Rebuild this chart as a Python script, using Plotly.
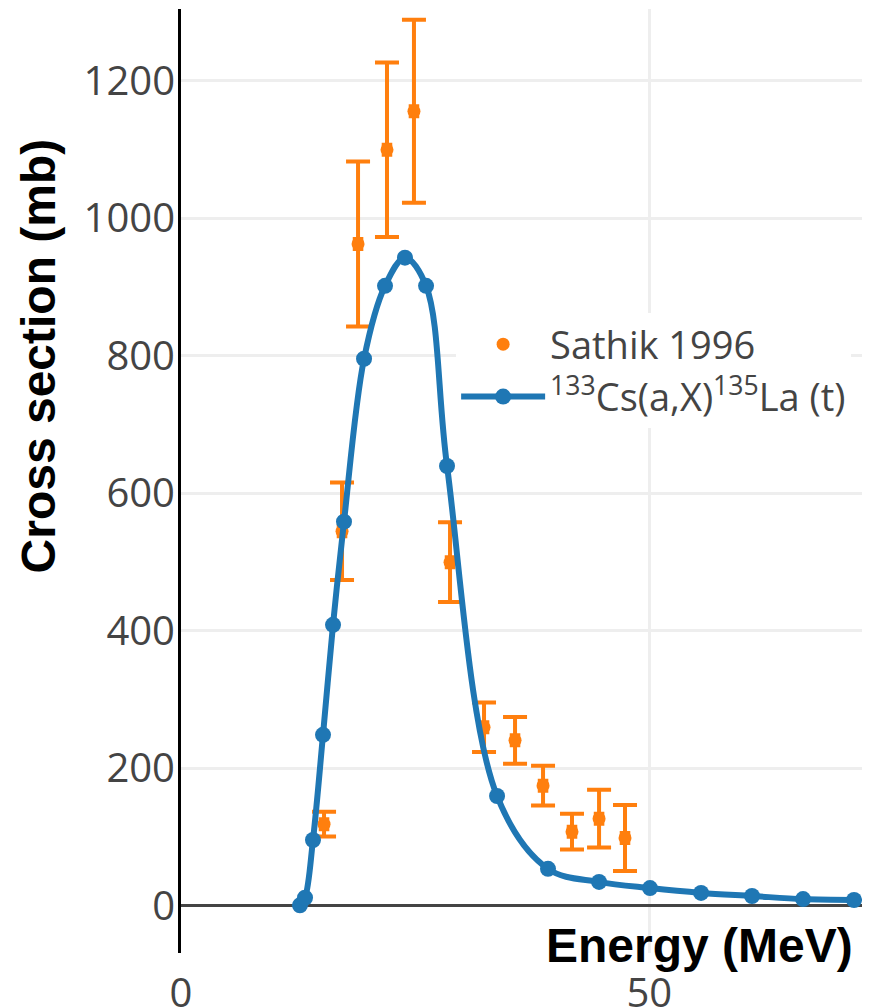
import plotly.graph_objects as go

# Model curve: 133Cs(a,X)135La (t)
model_energy = [12.70, 13.24, 14.09, 15.16, 16.23, 17.40, 19.54, 21.78, 23.91, 26.16,
                28.40, 33.74, 39.18, 44.63, 50.07, 55.52, 60.96, 66.41, 71.85]
model_xs = [1, 12, 96, 249, 409, 559, 796, 902, 943, 902,
            640, 160, 54, 35, 26, 19, 14.5, 10, 8.7]

# Experimental data: Sathik 1996
exp_energy = [15.27, 17.19, 18.90, 21.99, 24.87, 28.72, 32.35, 35.66, 38.65, 41.74, 44.63, 47.40]
exp_xs = [119, 545, 963, 1100, 1156, 500, 260, 241, 175, 108, 127, 99]
exp_err = [18, 71, 120, 127, 133, 58, 36, 34, 29, 26, 42, 48]
exp_energy_err = [0.35] * len(exp_energy)

BLUE = "#1f77b4"
ORANGE = "#ff7f0e"

fig = go.Figure()
fig.add_trace(go.Scatter(
    x=exp_energy, y=exp_xs, mode="markers", name="Sathik 1996",
    marker=dict(color=ORANGE, size=13),
    error_y=dict(type="data", array=exp_err, visible=True, color=ORANGE, thickness=4, width=12),
    error_x=dict(type="data", array=exp_energy_err, visible=True, color=ORANGE, thickness=4, width=7),
))
fig.add_trace(go.Scatter(
    x=model_energy, y=model_xs, mode="lines+markers",
    name="<sup>133</sup>Cs(a,X)<sup>135</sup>La (t)",
    line=dict(color=BLUE, width=6, shape="spline"),
    marker=dict(color=BLUE, size=16),
))

fig.update_layout(
    template="none",
    width=873, height=999,
    margin=dict(l=173, r=19, t=1, b=54, autoexpand=False),
    paper_bgcolor="white", plot_bgcolor="white",
    font=dict(family="Open Sans", size=38, color="#444"),
    showlegend=True,
    legend=dict(x=0.404, y=0.678, xanchor="left", yanchor="top",
                bgcolor="white", font=dict(size=38, color="#444"),
                itemwidth=84, tracegroupgap=0),
    xaxis=dict(range=[0, 72.7], tickvals=[0, 50], showgrid=True, gridcolor="#eeeeee", gridwidth=3,
               zeroline=False, showline=False, ticks="", automargin=False,
               ticklabelstandoff=13, tickfont=dict(size=40, color="#444")),
    yaxis=dict(range=[-68.4, 1304.7], dtick=200, showgrid=True, gridcolor="#eeeeee", gridwidth=3,
               zeroline=True, zerolinecolor="#444", zerolinewidth=3,
               showline=True, linecolor="black", linewidth=3, ticks="", automargin=False,
               ticklabelstandoff=-5, tickfont=dict(size=40, color="#444")),
    annotations=[
        dict(text="<b>Cross section (mb)</b>", xref="paper", yref="paper",
             x=-0.21, y=0.633, xanchor="center", yanchor="middle", textangle=-90,
             showarrow=False, font=dict(family="Liberation Sans, Arial", size=48, color="black")),
        dict(text="<b>Energy (MeV)</b>", xref="paper", yref="paper",
             x=0.99, y=0.008, xanchor="right", yanchor="middle",
             showarrow=False, font=dict(family="Liberation Sans, Arial", size=48, color="black")),
    ],
)

fig.write_html("out.html")
